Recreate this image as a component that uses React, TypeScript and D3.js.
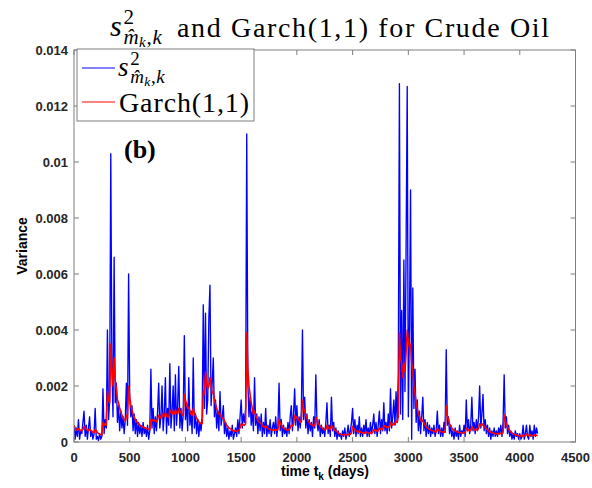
import React from "react";
import * as d3 from "d3";

const xTicks = [0, 500, 1000, 1500, 2000, 2500, 3000, 3500, 4000, 4500];
const xTickLabels = ["0", "500", "1000", "1500", "2000", "2500", "3000", "3500", "4000", "4500"];
const yTicks = [0, 0.002, 0.004, 0.006, 0.008, 0.01, 0.012, 0.014];
const yTickLabels = ["0", "0.002", "0.004", "0.006", "0.008", "0.01", "0.012", "0.014"];

// sampling step of the series (days)
const dayStep = 10;

// s^2_{m_k,k} (blue)
const blueValues = [
  0.0006, 0.0001, 0.0005, 0.0002, 0.0008, 0.0001, 0.0004, 0.0003, 0.0007, 0.0011,
  0.0002, 0.0006, 0.0001, 0.0005, 0.0009, 0.0002, 0.0004, 0.0001, 0.0003, 0.0012,
  0.0001, 0.0002, 0.00005, 0.0003, 0.0001, 0.0002, 0.0019, 0.0003, 0.0008, 0.0005,
  0.0040, 0.0008, 0.0015, 0.0103, 0.0027, 0.0009, 0.0066, 0.0014, 0.0021, 0.0007,
  0.0013, 0.0004, 0.0011, 0.0005, 0.0009, 0.0003, 0.0008, 0.0021, 0.0006, 0.0060,
  0.0016, 0.0009, 0.0013, 0.0004, 0.0010, 0.0003, 0.0008, 0.0002, 0.0007, 0.0003,
  0.0006, 0.0002, 0.0007, 0.0003, 0.0005, 0.0002, 0.0006, 0.0001, 0.0004, 0.0026,
  0.0005, 0.0012, 0.0003, 0.0009, 0.0004, 0.0011, 0.0021, 0.0005, 0.0009, 0.0020,
  0.0004, 0.0010, 0.0023, 0.0003, 0.0012, 0.0006, 0.0028, 0.0005, 0.0011, 0.0020,
  0.0004, 0.0024, 0.0006, 0.0013, 0.0027, 0.0005, 0.0012, 0.0004, 0.0010, 0.0038,
  0.0008, 0.0014, 0.0004, 0.0023, 0.0006, 0.0011, 0.0003, 0.0030, 0.0005, 0.0010,
  0.0003, 0.0008, 0.0002, 0.0007, 0.0004, 0.0009, 0.0049, 0.0012, 0.0046, 0.0010,
  0.0015, 0.0044, 0.0056, 0.0013, 0.0021, 0.0030, 0.0009, 0.0015, 0.0005, 0.0011,
  0.0004, 0.0018, 0.0006, 0.0009, 0.0013, 0.0003, 0.0007, 0.0002, 0.0005, 0.0001,
  0.0004, 0.0002, 0.0006, 0.0001, 0.0003, 0.0005, 0.0002, 0.0008, 0.0003, 0.0009,
  0.0015, 0.0005, 0.0010, 0.0007, 0.0012, 0.0110, 0.0021, 0.0009, 0.0016, 0.0006,
  0.0011, 0.0004, 0.0023, 0.0006, 0.0010, 0.0003, 0.0009, 0.0004, 0.0010, 0.0002,
  0.0007, 0.0003, 0.0012, 0.0002, 0.0006, 0.0003, 0.0008, 0.0002, 0.0005, 0.0007,
  0.0003, 0.0009, 0.0002, 0.0006, 0.0021, 0.0004, 0.0008, 0.0002, 0.0006, 0.0003,
  0.0005, 0.0002, 0.0007, 0.0003, 0.0009, 0.0013, 0.0004, 0.0010, 0.0019, 0.0006,
  0.0013, 0.0004, 0.0009, 0.0005, 0.0011, 0.0040, 0.0008, 0.0016, 0.0005, 0.0010,
  0.0003, 0.0008, 0.0004, 0.0007, 0.0002, 0.0009, 0.0005, 0.0024, 0.0007, 0.0004,
  0.0008, 0.0002, 0.0006, 0.0003, 0.0005, 0.0002, 0.0007, 0.0014, 0.0003, 0.0006,
  0.0002, 0.0016, 0.0004, 0.0007, 0.0002, 0.0005, 0.0001, 0.0004, 0.0002, 0.0003,
  0.0001, 0.0004, 0.0002, 0.0005, 0.0001, 0.0003, 0.0006, 0.0002, 0.0004, 0.0007,
  0.0012, 0.0003, 0.0008, 0.0002, 0.0006, 0.0003, 0.0009, 0.0002, 0.0005, 0.0002,
  0.0006, 0.0003, 0.0008, 0.0002, 0.0005, 0.0002, 0.0007, 0.0003, 0.0006, 0.0010,
  0.0003, 0.0007, 0.0002, 0.0006, 0.0011, 0.0003, 0.0008, 0.0004, 0.0014, 0.0004,
  0.0007, 0.0003, 0.0010, 0.0004, 0.0019, 0.0005, 0.0009, 0.0015, 0.0006, 0.0018,
  0.0007, 0.0025, 0.0128, 0.0010, 0.0047, 0.0008, 0.0065, 0.0018, 0.0070, 0.0127,
  0.0009, 0.0042, 0.0090, 0.0001, 0.0055, 0.0012, 0.0026, 0.0007, 0.0015, 0.0004,
  0.0011, 0.0003, 0.0009, 0.0016, 0.0004, 0.0008, 0.0002, 0.0007, 0.0003, 0.0006,
  0.0002, 0.0005, 0.0003, 0.0006, 0.0002, 0.0004, 0.0011, 0.0003, 0.0006, 0.0002,
  0.0005, 0.0002, 0.0007, 0.0004, 0.0033, 0.0006, 0.0009, 0.0003, 0.0006, 0.0002,
  0.0004, 0.0001, 0.0005, 0.0002, 0.0004, 0.0001, 0.0006, 0.0002, 0.0004, 0.0003,
  0.0006, 0.0002, 0.0015, 0.0004, 0.0008, 0.0003, 0.0006, 0.0016, 0.0004, 0.0007,
  0.0003, 0.0008, 0.0004, 0.0009, 0.0020, 0.0005, 0.0010, 0.0017, 0.0004, 0.0008,
  0.0003, 0.0006, 0.0002, 0.0005, 0.0001, 0.0004, 0.0002, 0.0005, 0.0002, 0.0004,
  0.0002, 0.0005, 0.0003, 0.0006, 0.0002, 0.0007, 0.0024, 0.0005, 0.0009, 0.0003,
  0.0006, 0.0002, 0.0004, 0.0001, 0.0003, 0.0001, 0.0004, 0.0002, 0.0003, 0.0001,
  0.0003, 0.0001, 0.0002, 0.0006, 0.0001, 0.0003, 0.0006, 0.0002, 0.0001, 0.0006,
  0.0002, 0.0004, 0.0001, 0.0006, 0.0002, 0.0005, 0.0003,
];

// Garch(1,1) (red)
const redValues = [
  0.00060, 0.00050, 0.00045, 0.00042, 0.00048, 0.00044, 0.00040, 0.00042, 0.00045, 0.00055,
  0.00050, 0.00046, 0.00042, 0.00040, 0.00046, 0.00042, 0.00038, 0.00035, 0.00033, 0.00045,
  0.00040, 0.00034, 0.00030, 0.00028, 0.00027, 0.00026, 0.00070, 0.00060, 0.00065, 0.00060,
  0.00180, 0.00150, 0.00140, 0.00350, 0.00260, 0.00200, 0.00300, 0.00220, 0.00190, 0.00150,
  0.00140, 0.00120, 0.00110, 0.00095, 0.00090, 0.00080, 0.00075, 0.00095, 0.00085, 0.00200,
  0.00160, 0.00130, 0.00115, 0.00100, 0.00090, 0.00080, 0.00075, 0.00068, 0.00065, 0.00060,
  0.00058, 0.00055, 0.00054, 0.00052, 0.00050, 0.00048, 0.00048, 0.00045, 0.00043, 0.00080,
  0.00075, 0.00080, 0.00075, 0.00078, 0.00072, 0.00080, 0.00095, 0.00090, 0.00085, 0.00100,
  0.00092, 0.00090, 0.00105, 0.00095, 0.00090, 0.00088, 0.00115, 0.00105, 0.00100, 0.00110,
  0.00100, 0.00115, 0.00105, 0.00100, 0.00120, 0.00110, 0.00105, 0.00098, 0.00095, 0.00170,
  0.00150, 0.00135, 0.00120, 0.00125, 0.00110, 0.00100, 0.00095, 0.00120, 0.00105, 0.00095,
  0.00085, 0.00080, 0.00072, 0.00068, 0.00065, 0.00065, 0.00180, 0.00170, 0.00250, 0.00210,
  0.00190, 0.00200, 0.00230, 0.00200, 0.00175, 0.00180, 0.00150, 0.00135, 0.00120, 0.00110,
  0.00100, 0.00100, 0.00090, 0.00085, 0.00085, 0.00075, 0.00068, 0.00060, 0.00055, 0.00050,
  0.00048, 0.00045, 0.00042, 0.00040, 0.00038, 0.00040, 0.00038, 0.00040, 0.00042, 0.00050,
  0.00065, 0.00060, 0.00062, 0.00060, 0.00065, 0.00390, 0.00260, 0.00200, 0.00170, 0.00140,
  0.00120, 0.00100, 0.00110, 0.00095, 0.00085, 0.00078, 0.00072, 0.00068, 0.00065, 0.00058,
  0.00055, 0.00052, 0.00058, 0.00052, 0.00048, 0.00046, 0.00045, 0.00043, 0.00042, 0.00044,
  0.00042, 0.00045, 0.00042, 0.00044, 0.00080, 0.00068, 0.00060, 0.00055, 0.00050, 0.00047,
  0.00045, 0.00043, 0.00045, 0.00043, 0.00050, 0.00060, 0.00058, 0.00062, 0.00095, 0.00085,
  0.00090, 0.00080, 0.00078, 0.00070, 0.00072, 0.00150, 0.00120, 0.00110, 0.00095, 0.00085,
  0.00075, 0.00070, 0.00065, 0.00062, 0.00058, 0.00060, 0.00058, 0.00090, 0.00080, 0.00068,
  0.00062, 0.00055, 0.00052, 0.00048, 0.00046, 0.00043, 0.00045, 0.00060, 0.00052, 0.00048,
  0.00044, 0.00060, 0.00052, 0.00048, 0.00042, 0.00040, 0.00036, 0.00033, 0.00030, 0.00028,
  0.00026, 0.00026, 0.00025, 0.00027, 0.00026, 0.00025, 0.00028, 0.00027, 0.00028, 0.00032,
  0.00055, 0.00048, 0.00045, 0.00040, 0.00038, 0.00035, 0.00040, 0.00036, 0.00034, 0.00032,
  0.00034, 0.00032, 0.00036, 0.00033, 0.00032, 0.00030, 0.00034, 0.00032, 0.00034, 0.00045,
  0.00040, 0.00042, 0.00038, 0.00040, 0.00050, 0.00045, 0.00048, 0.00045, 0.00060, 0.00055,
  0.00055, 0.00050, 0.00055, 0.00052, 0.00070, 0.00062, 0.00060, 0.00068, 0.00062, 0.00075,
  0.00070, 0.00090, 0.00390, 0.00300, 0.00280, 0.00230, 0.00280, 0.00250, 0.00320, 0.00400,
  0.00360, 0.00340, 0.00350, 0.00280, 0.00250, 0.00200, 0.00170, 0.00140, 0.00120, 0.00100,
  0.00090, 0.00080, 0.00072, 0.00078, 0.00068, 0.00060, 0.00055, 0.00050, 0.00048, 0.00045,
  0.00043, 0.00040, 0.00040, 0.00038, 0.00037, 0.00036, 0.00048, 0.00042, 0.00040, 0.00037,
  0.00036, 0.00035, 0.00036, 0.00034, 0.00130, 0.00095, 0.00080, 0.00065, 0.00058, 0.00050,
  0.00045, 0.00042, 0.00040, 0.00038, 0.00036, 0.00034, 0.00034, 0.00033, 0.00032, 0.00032,
  0.00034, 0.00032, 0.00050, 0.00045, 0.00042, 0.00040, 0.00040, 0.00055, 0.00048, 0.00045,
  0.00042, 0.00045, 0.00043, 0.00048, 0.00065, 0.00058, 0.00060, 0.00065, 0.00055, 0.00052,
  0.00048, 0.00045, 0.00040, 0.00038, 0.00035, 0.00033, 0.00032, 0.00031, 0.00030, 0.00030,
  0.00029, 0.00030, 0.00029, 0.00031, 0.00030, 0.00033, 0.00096, 0.00075, 0.00062, 0.00052,
  0.00046, 0.00040, 0.00036, 0.00032, 0.00030, 0.00027, 0.00026, 0.00025, 0.00024, 0.00022,
  0.00022, 0.00021, 0.00020, 0.00026, 0.00023, 0.00022, 0.00028, 0.00025, 0.00022, 0.00027,
  0.00024, 0.00022, 0.00021, 0.00026, 0.00023, 0.00024, 0.00022,
];

const SERIF = "'Liberation Serif', 'Times New Roman', serif";
const SANS = "'Liberation Sans', Arial, Helvetica, sans-serif";

// s^2_{\hat m_k,k} as one text element
function MathS({ x, y, size }: { x: number; y: number; size: number }) {
  const F = size;
  const sub = 0.7 * F;
  const mX = x + 0.45 * F;
  return (
    <text fontFamily={SERIF} fill="#000" x={x} y={y}>
      <tspan x={x} y={y} fontSize={F} fontStyle="italic">s</tspan>
      <tspan x={mX} y={y - 0.4 * F} fontSize={sub}>2</tspan>
      <tspan x={mX} y={y + 0.26 * F} fontSize={sub} fontStyle="italic">{"m\u0302"}</tspan>
      <tspan x={mX + 0.52 * F} y={y + 0.36 * F} fontSize={0.5 * F} fontStyle="italic">k</tspan>
      <tspan x={mX + 0.77 * F} y={y + 0.26 * F} fontSize={sub}>,</tspan>
      <tspan x={mX + 0.97 * F} y={y + 0.26 * F} fontSize={sub} fontStyle="italic">k</tspan>
    </text>
  );
}

export default function App() {
  const W = 592;
  const H = 488;
  const left = 74, right = 575.5, top = 50, bottom = 442;
  const x = d3.scaleLinear().domain([0, 4500]).range([left, right]);
  const y = d3.scaleLinear().domain([0, 0.014]).range([bottom, top]);
  const line = d3
    .line<number>()
    .x((_, i) => x(i * dayStep))
    .y((d) => y(d));
  const axisColor = "#7f7f7f";
  const tick = 5;

  return (
    <svg
      width={W}
      height={H}
      viewBox={`0 0 ${W} ${H}`}
      style={{ position: "fixed", left: 0, top: 0, background: "#fff" }}
    >
      <rect x={0} y={0} width={W} height={H} fill="#fff" />
      <defs>
        <clipPath id="plotclip">
          <rect x={left} y={top} width={right - left} height={bottom - top} />
        </clipPath>
      </defs>

      {/* data */}
      <g clipPath="url(#plotclip)">
        <path d={line(blueValues) || ""} fill="none" stroke="#0000ff" strokeWidth={1.35} strokeLinejoin="round" />
        <path d={line(redValues) || ""} fill="none" stroke="#ff0000" strokeWidth={1.6} strokeLinejoin="round" />
      </g>

      {/* axes box */}
      <rect x={left} y={top} width={right - left} height={bottom - top} fill="none" stroke={axisColor} strokeWidth={1} />
      {xTicks.map((t, i) => (
        <g key={"xt" + i}>
          <line x1={x(t)} x2={x(t)} y1={bottom} y2={bottom - tick} stroke={axisColor} />
          <line x1={x(t)} x2={x(t)} y1={top} y2={top + tick} stroke={axisColor} />
          <text
            x={x(t)}
            y={462}
            textAnchor="middle"
            fontFamily={SANS}
            fontWeight="bold"
            fontSize={13}
            fill="#262626"
          >
            {xTickLabels[i]}
          </text>
        </g>
      ))}
      {yTicks.map((t, i) => (
        <g key={"yt" + i}>
          <line x1={left} x2={left + tick} y1={y(t)} y2={y(t)} stroke={axisColor} />
          <line x1={right} x2={right - tick} y1={y(t)} y2={y(t)} stroke={axisColor} />
          <text
            x={68}
            y={y(t) + 4.5}
            textAnchor="end"
            fontFamily={SANS}
            fontWeight="bold"
            fontSize={13}
            fill="#262626"
          >
            {yTickLabels[i]}
          </text>
        </g>
      ))}

      {/* axis labels */}
      <text
        x={325}
        y={476}
        textAnchor="middle"
        fontFamily={SANS}
        fontWeight="bold"
        fontSize={14}
        fill="#000"
      >
        time t<tspan fontSize={10} dy={4}>k</tspan>
        <tspan dy={-4}> (days)</tspan>
      </text>
      <text
        transform={`translate(27, ${(top + bottom) / 2}) rotate(-90)`}
        textAnchor="middle"
        fontFamily={SANS}
        fontWeight="bold"
        fontSize={14}
        fill="#000"
      >
        Variance
      </text>

      {/* title */}
      <MathS x={110} y={36} size={30} />
      <text x={177} y={37} fontFamily={SERIF} fontSize={28} fill="#000" textLength={372} lengthAdjust="spacing">
        and Garch(1,1) for Crude Oil
      </text>

      {/* legend */}
      <rect x={77} y={49} width={177} height={72} fill="#fff" stroke={axisColor} strokeWidth={1} />
      <line x1={82} x2={115} y1={68} y2={68} stroke="#0000ff" strokeWidth={1} />
      <MathS x={118} y={76} size={27} />
      <line x1={82} x2={115} y1={102} y2={102} stroke="#ff0000" strokeWidth={1} />
      <text x={119} y={112} fontFamily={SERIF} fontSize={28} fill="#000" textLength={130} lengthAdjust="spacing">
        Garch(1,1)
      </text>

      {/* panel label */}
      <text x={124} y={158} fontFamily={SERIF} fontWeight="bold" fontSize={26} fill="#000">
        (b)
      </text>
    </svg>
  );
}
